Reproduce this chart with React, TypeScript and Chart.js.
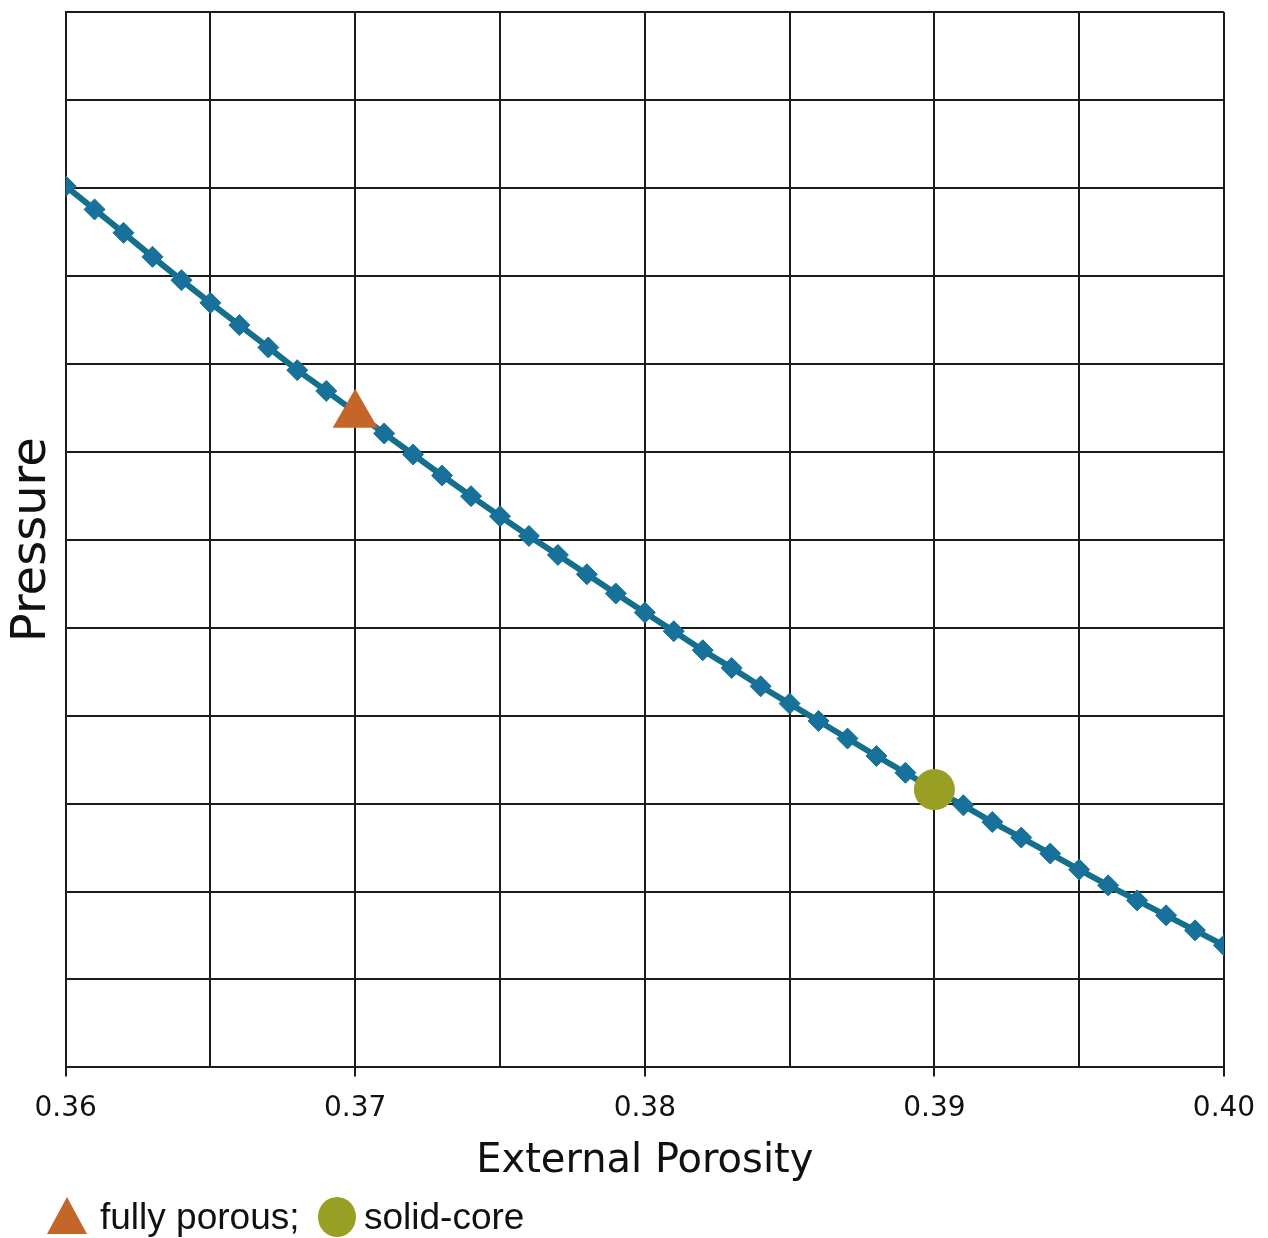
import React, { useEffect, useRef } from "react";
import { Chart, registerables } from "chart.js";

Chart.register(...registerables);

// External porosity (x) values of the model curve
const porosity = [
  0.360, 0.361, 0.362, 0.363, 0.364, 0.365, 0.366, 0.367, 0.368, 0.369,
  0.370, 0.371, 0.372, 0.373, 0.374, 0.375, 0.376, 0.377, 0.378, 0.379,
  0.380, 0.381, 0.382, 0.383, 0.384, 0.385, 0.386, 0.387, 0.388, 0.389,
  0.390, 0.391, 0.392, 0.393, 0.394, 0.395, 0.396, 0.397, 0.398, 0.399,
  0.400,
];

// Pressure (arbitrary units, one unit = one horizontal grid cell)
const pressure = [
  10.02, 9.755, 9.489, 9.216, 8.951, 8.693, 8.44, 8.186, 7.928, 7.692,
  7.45, 7.208, 6.969, 6.73, 6.495, 6.267, 6.043, 5.827, 5.607, 5.388,
  5.172, 4.959, 4.743, 4.542, 4.333, 4.137, 3.939, 3.739, 3.541, 3.35,
  3.156, 2.98, 2.79, 2.613, 2.431, 2.249, 2.07, 1.899, 1.729, 1.558,
  1.388,
];

const fullyPorousX = [0.37];
const fullyPorousY = [7.42];
const solidCoreX = [0.39];
const solidCoreY = [3.16];

const legendLabels = ["fully porous;", "solid-core"];

const xMin = 0.36;
const xMax = 0.4;
const xStep = 0.005;
const yMin = 0;
const yMax = 12;
const yStep = 1;

const LINE_COLOR = "#136f8c";
const DIAMOND_COLOR = "#17719a";
const TRIANGLE_COLOR = "#c4662a";
const CIRCLE_COLOR = "#989f22";
const GRID_COLOR = "#1c1c1c";

const isMajor = (v: number) => Math.abs(v * 100 - Math.round(v * 100)) < 1e-6;

const legendPlugin = {
  id: "bottomLegend",
  afterDraw(chart: any) {
    const ctx = chart.ctx as CanvasRenderingContext2D;
    ctx.save();
    // triangle marker
    ctx.fillStyle = TRIANGLE_COLOR;
    ctx.beginPath();
    ctx.moveTo(67, 1197);
    ctx.lineTo(87, 1234);
    ctx.lineTo(47, 1234);
    ctx.closePath();
    ctx.fill();
    // circle marker
    ctx.fillStyle = CIRCLE_COLOR;
    ctx.beginPath();
    ctx.ellipse(337, 1217, 19, 20, 0, 0, Math.PI * 2);
    ctx.fill();
    ctx.fillStyle = "#111";
    ctx.font = "37px 'Liberation Sans', Arial, sans-serif";
    ctx.textBaseline = "alphabetic";
    ctx.textAlign = "left";
    ctx.fillText(legendLabels[0], 100, 1229);
    ctx.fillText(legendLabels[1], 364, 1229);
    ctx.restore();
  },
};

export default function App() {
  const canvasRef = useRef<HTMLCanvasElement | null>(null);

  useEffect(() => {
    if (!canvasRef.current) return;
    const chart = new Chart(canvasRef.current, {
      type: "scatter",
      data: {
        datasets: [
          {
            label: legendLabels[0],
            data: fullyPorousX.map((x, i) => ({ x, y: fullyPorousY[i] })),
            pointStyle: "triangle",
            pointRadius: 26,
            backgroundColor: TRIANGLE_COLOR,
            borderColor: TRIANGLE_COLOR,
            borderWidth: 0,
            showLine: false,
            order: 0,
          },
          {
            label: legendLabels[1],
            data: solidCoreX.map((x, i) => ({ x, y: solidCoreY[i] })),
            pointStyle: "circle",
            pointRadius: 20.5,
            backgroundColor: CIRCLE_COLOR,
            borderColor: CIRCLE_COLOR,
            borderWidth: 0,
            showLine: false,
            order: 0,
          },
          {
            label: "Pressure",
            data: porosity.map((x, i) => ({ x, y: pressure[i] })),
            showLine: true,
            borderColor: LINE_COLOR,
            borderWidth: 6,
            pointStyle: "rectRot",
            pointRadius: 10.5,
            pointBackgroundColor: DIAMOND_COLOR,
            pointBorderColor: DIAMOND_COLOR,
            pointBorderWidth: 1,
            tension: 0,
            order: 1,
          },
        ],
      },
      options: {
        responsive: false,
        animation: false,
        devicePixelRatio: 1,
        layout: { autoPadding: false, padding: { left: 0, top: 12, right: 44, bottom: 43 } },
        plugins: {
          legend: { display: false },
          tooltip: { enabled: false },
        },
        scales: {
          x: {
            type: "linear",
            min: xMin,
            max: xMax,
            afterFit: (s: any) => {
              s.paddingLeft = 0;
              s.paddingRight = 0;
              s.paddingTop = 0;
              s.paddingBottom = 0;
            },
            ticks: {
              stepSize: xStep,
              autoSkip: false,
              maxRotation: 0,
              padding: 16,
              color: "#111",
              font: { family: "'DejaVu Sans', Verdana, sans-serif", size: 28 },
              callback: (value: any) => {
                const v = Number(value);
                return isMajor(v) ? (Math.round(v * 100) / 100).toFixed(2) : "";
              },
            },
            grid: {
              color: GRID_COLOR,
              lineWidth: 2,
              drawTicks: true,
              tickLength: 9,
              tickColor: (c: any) => (c.tick && isMajor(c.tick.value) ? GRID_COLOR : "rgba(0,0,0,0)"),
            },
            border: { color: GRID_COLOR, width: 2 },
            title: {
              display: true,
              text: "External Porosity",
              color: "#111",
              font: { family: "'DejaVu Sans', Verdana, sans-serif", size: 40, lineHeight: 1 },
              padding: { top: 0, bottom: 13 },
            },
          },
          y: {
            type: "linear",
            min: yMin,
            max: yMax,
            afterFit: (s: any) => {
              s.paddingLeft = 0;
              s.paddingRight = 0;
              s.paddingTop = 0;
              s.paddingBottom = 0;
            },
            ticks: { stepSize: yStep, display: false },
            grid: { color: GRID_COLOR, lineWidth: 2, drawTicks: false },
            border: { color: GRID_COLOR, width: 2 },
            title: {
              display: true,
              text: "Pressure",
              color: "#111",
              font: { family: "'DejaVu Sans', Verdana, sans-serif", size: 48 },
              padding: { top: 4, bottom: 4 },
            },
          },
        },
      },
      plugins: [legendPlugin],
    });
    return () => chart.destroy();
  }, []);

  return (
    <div style={{ position: "absolute", left: 0, top: 0, width: 1268, height: 1238, background: "#fff" }}>
      <canvas ref={canvasRef} width={1268} height={1238} />
    </div>
  );
}
